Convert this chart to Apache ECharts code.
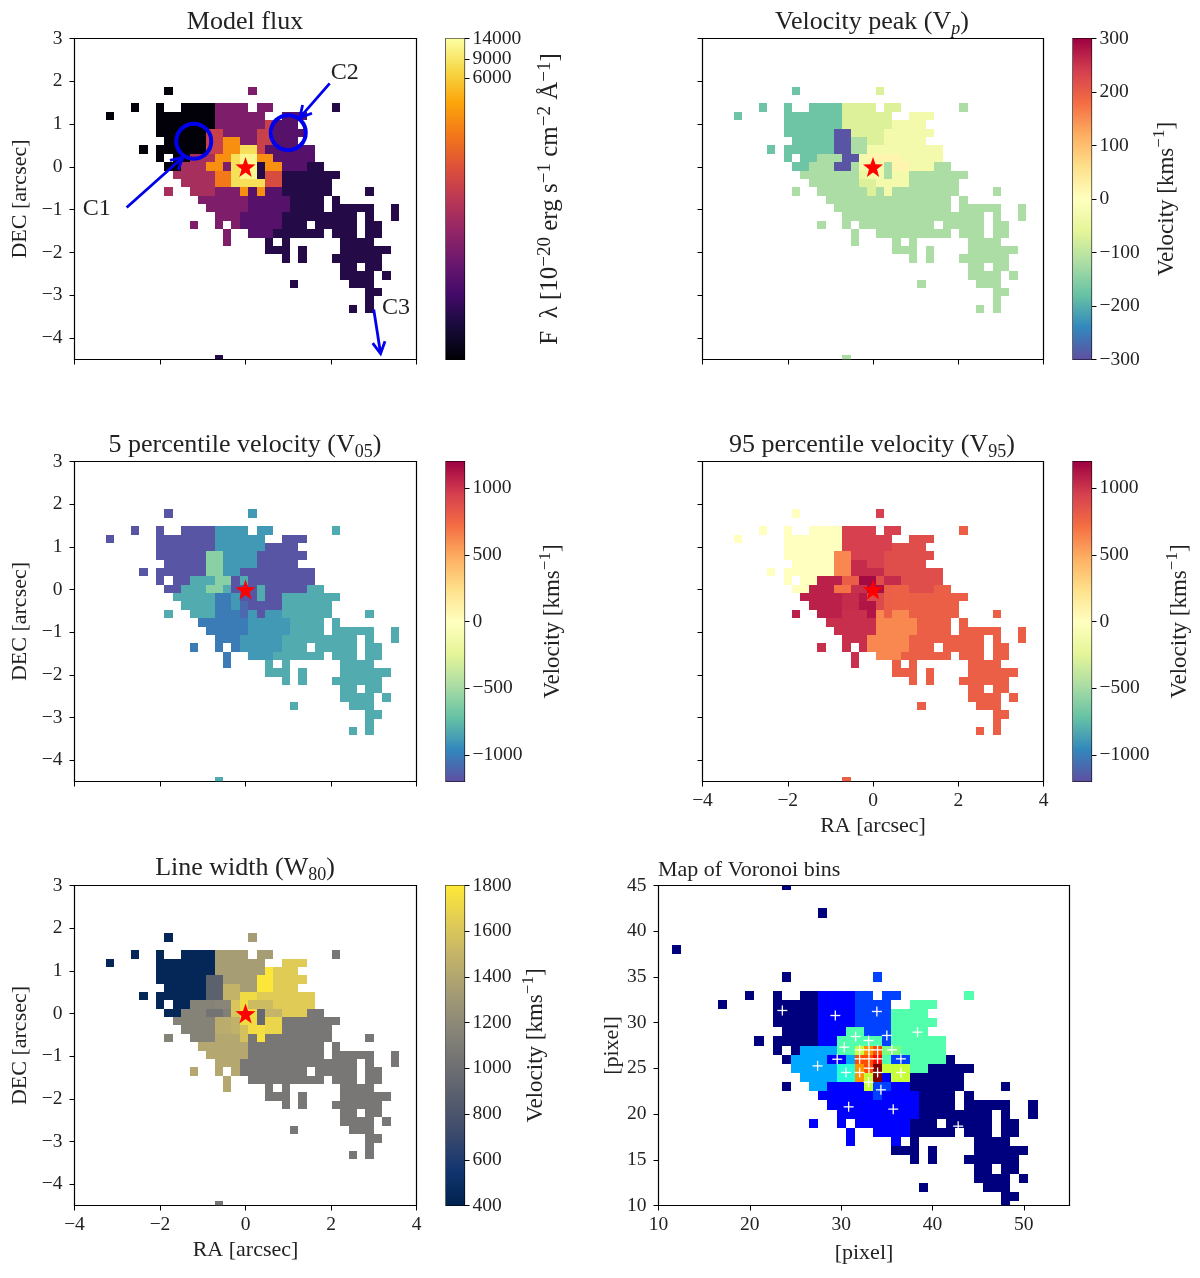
<!DOCTYPE html>
<html>
<head>
<meta charset="utf-8">
<title>Emission line maps</title>
<script src="https://cdn.jsdelivr.net/npm/echarts@6/dist/echarts.min.js"></script>
<style>
html, body { margin: 0; background: #fff; }
#main { width: 1200px; height: 1278px; }
</style>
</head>
<body>
<div id="main"></div>
<script>
// bin map of the physical panels: [y pixel, 'x or x-x + bin letter']
var binRows = [
    [35, '24A 34B'],
    [33, '20A 23A 26-29A 30-33B 35-36B 44W'],
    [32, '17A 23-29A 30-35B 38-40C'],
    [31, '23-29A 30-35B 36D 37-39C'],
    [30, '23-28A 29-30E 31-34B 35-36D 37-40C'],
    [29, '24-28A 29-30E 31-32F 33-34B 35-36D 37-39C'],
    [28, '21A 23-28A 29-30E 31-32F 33-34H 35I 36-41C'],
    [27, '23A 25-26A 27-29Q 30-31J 32K 33L 34M 35-36N 37-41C'],
    [26, '24-25A 26-28Q 29-30O 31P 32R 33-34T 35U 36-37V 38-40C 41-42W'],
    [25, '25-29Q 30-31X 32Y 33-34Z 35U 36-37a 38-44W'],
    [24, '26-29Q 30-31X 32b 33c 34d 35e 36-37a 38-43W'],
    [23, '24Q 27-29Q 30-32s 33f 34n 35g 36-37n 38-43W 48W'],
    [22, '28-33s 34-38n 39-42W 44W'],
    [21, '29-33s 34-38n 39-42W 44-48W 51W'],
    [20, '30-32s 33-37n 38-46W 48W 51W'],
    [19, '27s 30s 32s 33-37n 38-40W 42-46W 48-49W'],
    [18, '31s 34-36n 37-42W 44-46W 48-49W'],
    [17, '31s 36W 38W 45-48W'],
    [16, '36-38W 40W 45-50W'],
    [15, '38W 40W 44-49W'],
    [14, '45-46W 48-49W'],
    [13, '45-48W 50W'],
    [12, '39W 46-48W'],
    [11, '48-49W'],
    [10, '48W'],
    [9, '46W 48W'],
    [3, '30W']
];

// one value per bin letter, same order as binKeys
var binKeys = ['A','B','C','D','E','F','H','I','Q','J','K','L','M','N','O','P','R','T','U','V','W','X','Y','Z','a','b','c','d','e','s','f','n','g'];
var fluxVals = [16,164,83,600,600,2550,8100,600,326,2550,8100,12100,12100,2550,2550,164,8100,12100,37,2550,37,1800,8100,12100,800,8100,8100,8100,8100,164,2550,83,2550];
var vpVals = [-174,-70,-30,-30,-295,-120,-30,-30,-120,-295,-30,20,20,20,-295,-120,-30,-30,-120,20,-120,-120,-50,-30,-30,-70,-70,-30,-30,-120,-70,-120,-30];
var v05Vals = [-1175,-890,-1175,-1175,-600,-890,-1175,-1175,-815,-600,-1175,-815,-1175,-1175,-600,-815,-1175,-1175,-815,-1175,-815,-1010,-890,-1175,-1175,-890,-1090,-1175,-1175,-1010,-1090,-890,-1175];
var v95Vals = [0,950,880,880,620,1030,1030,880,1080,800,1170,1170,880,1030,700,1020,1020,1150,790,780,790,1030,1100,900,780,1120,1120,900,790,1020,1120,620,790];
var w80Vals = [440,1340,1640,1790,900,1490,1730,1640,1150,1170,1600,1730,1540,1540,1040,1130,1600,1740,960,1500,1070,1440,1480,1730,1700,1480,1570,1740,1740,1410,1570,1070,1760];

// voronoi map
var voronoiRows = [
    [45, '24n'],
    [42, '28n'],
    [38, '12n'],
    [35, '24n 34m'],
    [33, '20n 23n 26-27n 28-31b 32-33m 35-36m 44g'],
    [32, '17n 23-27n 28-31b 32-35m 38-40g'],
    [31, '23-27n 28-31b 32-35m 36-39g'],
    [30, '23-27n 28-31b 32-35m 36-40g'],
    [29, '24-27n 28-30b 31-32g 33-35m 36-39g'],
    [28, '21n 23-27n 28-29b 30-34g 35m 36-41g'],
    [27, '23n 25n 26-29c 30-31g 32y 33o 34r 35-36l 37-41g'],
    [26, '24n 25-28c 29-30b 31c 32-33r 34R 35g 36-37m 38-41g 42n'],
    [25, '25-29c 30-31t 32o 33r 34d 35-37y 38-39g 40-44n'],
    [24, '26-29c 30-31t 32o 33y 34d 35b 36-37y 38-43n'],
    [23, '24n 27-28c 29-32b 33y 34-35m 36-37b 38-43n 48n'],
    [22, '28-33b 34m 35-38b 39-42n 44n'],
    [21, '29-38b 39-42n 44-48n 51n'],
    [20, '30-38b 39-46n 48n 51n'],
    [19, '27b 30b 32-37b 38-40n 42-46n 48-49n'],
    [18, '31b 34-37b 38-42n 44-46n 48-49n'],
    [17, '31b 36b 38n 45-48n'],
    [16, '36-38n 40n 45-50n'],
    [15, '38n 40n 44-49n'],
    [14, '45-46n 48-49n'],
    [13, '45-48n 50n'],
    [12, '39n 46-48n'],
    [11, '48-49n'],
    [10, '48n']
];
var voronoiKeys = ['n','b','m','c','t','g','l','y','o','r','R','d'];
var voronoiVals = [0,0.125,0.19,0.29,0.415,0.455,0.5,0.57,0.73,0.8,0.87,1];
var voronoiCenters = [[32.02,27.02],[33.04,27.02],[33.99,27.02],[32.02,26.04],[33.04,26.04],[33.99,26.04],[33.04,25.02],[32.02,24.55],[33.99,24.55],[30.52,24.55],[33,23.49],[34.35,22.65],[36.54,24.55],[36.54,26.04],[35.55,27.02],[29.57,26],[27.42,25.27],[30.34,27.32],[31.58,28.48],[33,28.05],[35,28.6],[38.36,28.96],[33.91,31.22],[29.36,30.78],[23.56,31.33],[30.82,20.79],[35.7,20.54],[42.81,18.68]];

// annotations on the flux panel
var arrowLines = [[-2.78,-0.95,-1.47,0.22],[1.97,1.95,1.27,1.15],[3.0,-3.33,3.16,-4.36]];
var ringCenters = [[-1.21,0.6],[1.0,0.8]];
var noteLabels = [['C1',-3.48,-0.97],['C2',2.32,2.2],['C3',3.52,-3.28]];

var velTicks = [-1000,-500,0,500,1000];
var vpTicks = [-300,-200,-100,0,100,200,300];
var w80Ticks = [400,600,800,1000,1200,1400,1600,1800];
var fluxTicks = [6000,14000];
var fluxMidTick = [9000];
var decTicks = [-4,-3,-2,-1,0,1,2,3];
var pixelXTicks = [10,20,30,40,50];

var PIX = 0.196, X0 = 33.18, Y0 = 25.93;
var SERIF = '"Liberation Serif", serif';
var STAR = 'path://M0,-10 L2.35,-3.24 L9.51,-3.09 L3.8,1.24 L5.88,8.09 L0,4 L-5.88,8.09 L-3.8,1.24 L-9.51,-3.09 L-2.35,-3.24 Z';

var spectral = ['#9e0142','#d53e4f','#f46d43','#fdae61','#fee08b','#ffffbf','#e6f598','#abdda4','#66c2a5','#3288bd','#5e4fa2'].reverse();
var inferno = ['#000004','#160b39','#420a68','#6a176e','#932667','#bb3754','#dd513a','#f37819','#fca50a','#f6d746','#fcffa4'];
var cividis = ['#00224e','#123570','#3b496c','#575d6d','#707173','#8a8678','#a59c74','#c3b369','#e1cc55','#fee838'];
var jet = ['#00007f','#0000ff','#007fff','#00ffff','#7fff7f','#ffff00','#ff7f00','#ff0000','#7f0000'];

function log10(v) { return Math.log(v) / Math.LN10; }

// expand the row strings into cells
function eachCell(rows, cb) {
    rows.forEach(function (row) {
        row[1].split(' ').forEach(function (tok) {
            var m = tok.match(/^(\d+)(?:-(\d+))?([A-Za-z])$/);
            var a = +m[1], b = m[2] ? +m[2] : a;
            for (var x = a; x <= b; x++) cb(x, row[0], m[3]);
        });
    });
}

function binData(vals) {
    var out = [];
    eachCell(binRows, function (x, y, k) {
        out.push([(x - X0) * PIX, (y - Y0) * PIX, vals[binKeys.indexOf(k)]]);
    });
    return out;
}

function voronoiData() {
    var out = [];
    eachCell(voronoiRows, function (x, y, k) {
        out.push([x, y, voronoiVals[voronoiKeys.indexOf(k)]]);
    });
    return out;
}

function cellSeries(idx, data, half, stops, toT) {
    return {
        type: 'custom',
        xAxisIndex: idx,
        yAxisIndex: idx,
        clip: true,
        data: data,
        encode: { x: 0, y: 1 },
        renderItem: function (params, api) {
            var p0 = api.coord([api.value(0) - half, api.value(1) + half]);
            var p1 = api.coord([api.value(0) + half, api.value(1) - half]);
            var col = echarts.color.lerp(toT(api.value(2)), stops);
            // snap to whole pixels so neighbours leave no seams
            var x0 = Math.round(p0[0]), y0 = Math.round(p0[1]);
            var rect = echarts.graphic.clipRectByRect(
                { x: x0, y: y0, width: Math.round(p1[0]) - x0, height: Math.round(p1[1]) - y0 },
                { x: params.coordSys.x, y: params.coordSys.y, width: params.coordSys.width, height: params.coordSys.height }
            );
            if (!rect) return null;
            return { type: 'rect', shape: rect, style: { fill: col } };
        }
    };
}

function starSeries(idx) {
    return {
        type: 'scatter',
        xAxisIndex: idx,
        yAxisIndex: idx,
        symbol: STAR,
        symbolSize: 20,
        itemStyle: { color: '#ff0000', opacity: 1 },
        silent: true,
        z: 5,
        data: [[0, 0]]
    };
}

function minus(v) { return String(v).replace('-', '\u2212'); }
function fluxFmt(v) { return Math.round(Math.pow(10, v)); }

var panels = [
    { left: 74.5, top: 38.5, width: 342, height: 321, xLabel: false, yLabel: true },
    { left: 702.5, top: 38.5, width: 341, height: 321, xLabel: false, yLabel: false },
    { left: 74.5, top: 461.5, width: 342, height: 320, xLabel: false, yLabel: true },
    { left: 702.5, top: 461.5, width: 341, height: 320, xLabel: true, yLabel: false },
    { left: 74.5, top: 885.5, width: 342, height: 320, xLabel: true, yLabel: true }
];
var voronoiGrid = { left: 658.5, top: 885.5, width: 411, height: 320 };

var velName = '{n|Velocity [kms}{u|\u22121}{n|]}';
var bars = [
    { left: 446, top: 38.5, height: 321, min: log10(15), max: log10(14000), ticks: fluxTicks.map(log10), stops: inferno, gap: 71, size: 25, fmt: fluxFmt,
      name: '{n|F  \u03bb [10}{u|\u221220}{n| erg s}{u|\u22121}{n| cm}{u|\u22122}{n| \u00c5}{u|\u22121}{n|]}' },
    { left: 1073, top: 38.5, height: 321, min: -300, max: 300, ticks: vpTicks, stops: spectral, gap: 60, size: 23, name: velName },
    { left: 446, top: 461.5, height: 320, min: -1200, max: 1200, ticks: velTicks, stops: spectral, gap: 73, size: 23, name: velName },
    { left: 1073, top: 461.5, height: 320, min: -1200, max: 1200, ticks: velTicks, stops: spectral, gap: 73, size: 23, name: velName },
    { left: 446, top: 885.5, height: 320, min: 400, max: 1800, ticks: w80Ticks, stops: cividis, gap: 56, size: 23, name: velName }
];

var titleRich = {
    t: { fontFamily: SERIF, fontSize: 26, fontWeight: 'normal', lineHeight: 32, color: '#222' },
    s: { fontFamily: SERIF, fontSize: 18, fontWeight: 'normal', lineHeight: 32, verticalAlign: 'bottom', color: '#222' },
    i: { fontFamily: SERIF, fontSize: 18, fontWeight: 'normal', lineHeight: 32, verticalAlign: 'bottom', fontStyle: 'italic', color: '#222' }
};
var titles = [
    { cx: 245, top: 6, text: '{t|Model flux}' },
    { cx: 872, top: 6, text: '{t|Velocity peak (V}{i|p}{t|)}' },
    { cx: 245, top: 429, text: '{t|5 percentile velocity (V}{s|05}{t|)}' },
    { cx: 872, top: 429, text: '{t|95 percentile velocity (V}{s|95}{t|)}' },
    { cx: 245, top: 852, text: '{t|Line width (W}{s|80}{t|)}' }
];

var grids = [], xAxes = [], yAxes = [], series = [];
var hiddenLine = { show: false, onZero: false };
var tickStyle = { show: true, length: 5, inside: false, lineStyle: { color: '#000', width: 1 } };
var labelStyle = { fontFamily: SERIF, fontSize: 19.5, lineHeight: 14, color: '#222', interval: 0, showMinLabel: true, showMaxLabel: true, hideOverlap: false };
var nameStyle = { fontFamily: SERIF, fontSize: 22, color: '#222' };
var pixelName = { fontFamily: SERIF, fontSize: 22, color: '#222' };

panels.forEach(function (p, i) {
    grids.push({ left: p.left, top: p.top, width: p.width, height: p.height, show: true, borderColor: '#000', borderWidth: 1.2, backgroundColor: 'transparent', containLabel: false });
    xAxes.push({
        gridIndex: i, type: 'value', min: -4, max: 4, interval: 2,
        axisLine: hiddenLine, splitLine: { show: false }, axisTick: tickStyle,
        axisLabel: Object.assign({ show: p.xLabel, margin: 12, formatter: minus }, labelStyle),
        name: p.xLabel ? 'RA [arcsec]' : '', nameLocation: 'middle', nameGap: 34, nameTextStyle: nameStyle
    });
    yAxes.push({
        gridIndex: i, type: 'value', min: -4.5, max: 3,
        axisLine: hiddenLine, splitLine: { show: false },
        axisTick: Object.assign({ customValues: decTicks }, tickStyle),
        axisLabel: Object.assign({ show: p.yLabel, margin: 12, customValues: decTicks, formatter: minus }, labelStyle),
        name: p.yLabel ? 'DEC [arcsec]' : '', nameLocation: 'middle', nameGap: 43, nameTextStyle: nameStyle
    });
});

// voronoi panel axes
grids.push({ left: voronoiGrid.left, top: voronoiGrid.top, width: voronoiGrid.width, height: voronoiGrid.height, show: true, borderColor: '#000', borderWidth: 1.2, backgroundColor: 'transparent' });
xAxes.push({
    gridIndex: 5, type: 'value', min: 10, max: 55,
    axisLine: hiddenLine, splitLine: { show: false },
    axisTick: Object.assign({ customValues: pixelXTicks }, tickStyle),
    axisLabel: Object.assign({ margin: 12, customValues: pixelXTicks }, labelStyle),
    name: '[pixel]', nameLocation: 'middle', nameGap: 37, nameTextStyle: pixelName
});
yAxes.push({
    gridIndex: 5, type: 'value', min: 10, max: 45, interval: 5,
    axisLine: hiddenLine, splitLine: { show: false }, axisTick: tickStyle,
    axisLabel: Object.assign({ margin: 12 }, labelStyle),
    name: '[pixel]', nameLocation: 'middle', nameGap: 34, nameTextStyle: pixelName
});

// colour bars, their axes carry the ticks
bars.forEach(function (b, i) {
    var g = 6 + i;
    grids.push({ left: b.left, top: b.top, width: 18.5, height: b.height, show: true, borderColor: '#000', borderWidth: 1.2, backgroundColor: 'transparent' });
    xAxes.push({ gridIndex: g, type: 'value', min: 0, max: 1, show: false });
    yAxes.push({
        gridIndex: g, type: 'value', position: 'right', min: b.min, max: b.max,
        axisLine: hiddenLine, splitLine: { show: false },
        axisTick: Object.assign({ customValues: b.ticks }, tickStyle),
        axisLabel: Object.assign({ margin: 8, customValues: b.ticks, formatter: b.fmt || minus }, labelStyle),
        name: b.name, nameLocation: 'middle', nameRotate: 90, nameGap: b.gap,
        nameTextStyle: {
            rich: {
                n: { fontFamily: SERIF, fontSize: b.size, lineHeight: 30, color: '#222' },
                u: { fontFamily: SERIF, fontSize: b.size - 6, lineHeight: 30, verticalAlign: 'top', color: '#222' }
            }
        }
    });
    series.push({
        type: 'custom', xAxisIndex: g, yAxisIndex: g, silent: true, data: [[0, b.min, 1, b.max]],
        encode: { x: [0, 2], y: [1, 3] },
        renderItem: function (params, api) {
            var p0 = api.coord([0, b.max]), p1 = api.coord([1, b.min]);
            var colorStops = b.stops.map(function (c, k) { return { offset: k / (b.stops.length - 1), color: c }; });
            return {
                type: 'rect',
                shape: { x: p0[0], y: p0[1], width: p1[0] - p0[0], height: p1[1] - p0[1] },
                style: { fill: new echarts.graphic.LinearGradient(0, 1, 0, 0, colorStops) }
            };
        }
    });
});

// the flux labels sit close together and the axis drops the middle one,
// so 9000 goes on a second axis of the same bar
yAxes.push({
    gridIndex: 6, type: 'value', position: 'right', min: log10(15), max: log10(14000),
    axisLine: hiddenLine, splitLine: { show: false },
    axisTick: Object.assign({ customValues: fluxMidTick.map(log10) }, tickStyle),
    axisLabel: Object.assign({ margin: 8, customValues: fluxMidTick.map(log10), formatter: fluxFmt }, labelStyle)
});

// map panels
var lf0 = log10(15), lf1 = log10(14000);
series.push(cellSeries(0, binData(fluxVals), PIX / 2, inferno, function (v) { return (log10(v) - lf0) / (lf1 - lf0); }));
series.push(cellSeries(1, binData(vpVals), PIX / 2, spectral, function (v) { return (v + 300) / 600; }));
series.push(cellSeries(2, binData(v05Vals), PIX / 2, spectral, function (v) { return (v + 1200) / 2400; }));
series.push(cellSeries(3, binData(v95Vals), PIX / 2, spectral, function (v) { return (v + 1200) / 2400; }));
series.push(cellSeries(4, binData(w80Vals), PIX / 2, cividis, function (v) { return (v - 400) / 1400; }));
series.push(cellSeries(5, voronoiData(), 0.5, jet, function (v) { return v; }));
[0, 1, 2, 3, 4].forEach(function (i) { series.push(starSeries(i)); });

// bin centres, white plus signs
series.push({
    type: 'custom', xAxisIndex: 5, yAxisIndex: 5, silent: true, z: 5, data: voronoiCenters,
    encode: { x: 0, y: 1 },
    renderItem: function (params, api) {
        var c = api.coord([api.value(0), api.value(1)]), r = 5;
        return {
            type: 'group',
            children: [
                { type: 'line', shape: { x1: c[0] - r, y1: c[1], x2: c[0] + r, y2: c[1] }, style: { stroke: '#fff', lineWidth: 1.3 } },
                { type: 'line', shape: { x1: c[0], y1: c[1] - r, x2: c[0], y2: c[1] + r }, style: { stroke: '#fff', lineWidth: 1.3 } }
            ]
        };
    }
});

// flux panel: rings, arrows, labels
series.push({
    type: 'scatter', xAxisIndex: 0, yAxisIndex: 0, silent: true, z: 4, symbol: 'circle', symbolSize: 35,
    itemStyle: { color: 'transparent', borderColor: '#0000ee', borderWidth: 4, opacity: 1 },
    data: ringCenters
});
series.push({
    type: 'custom', xAxisIndex: 0, yAxisIndex: 0, silent: true, z: 4, clip: false, data: arrowLines,
    encode: { x: [0, 2], y: [1, 3] },
    renderItem: function (params, api) {
        var a = api.coord([api.value(0), api.value(1)]);
        var b = api.coord([api.value(2), api.value(3)]);
        var ang = Math.atan2(b[1] - a[1], b[0] - a[0]), h = 13, w = 0.5;
        var st = { stroke: '#0000ee', lineWidth: 2.8, fill: null };
        return {
            type: 'group',
            children: [
                { type: 'line', shape: { x1: a[0], y1: a[1], x2: b[0], y2: b[1] }, style: st },
                { type: 'polyline', shape: { points: [
                    [b[0] - h * Math.cos(ang - w), b[1] - h * Math.sin(ang - w)],
                    b,
                    [b[0] - h * Math.cos(ang + w), b[1] - h * Math.sin(ang + w)]
                ] }, style: st }
            ]
        };
    }
});
series.push({
    type: 'scatter', xAxisIndex: 0, yAxisIndex: 0, silent: true, z: 4, symbolSize: 0,
    itemStyle: { opacity: 1 },
    data: noteLabels.map(function (n) { return { name: n[0], value: [n[1], n[2]] }; }),
    label: { show: true, position: 'inside', formatter: '{b}', fontFamily: SERIF, fontSize: 24, color: '#222', opacity: 1 }
});

var titleList = titles.map(function (t) {
    return { text: t.text, left: t.cx, top: t.top, textAlign: 'center', padding: 0, textStyle: { fontWeight: 'normal', rich: titleRich } };
});
titleList.push({ text: 'Map of Voronoi bins', left: 658, top: 859, padding: 0, textStyle: { fontFamily: SERIF, fontSize: 22, fontWeight: 'normal', color: '#222' } });

var myChart = echarts.init(document.getElementById('main'), null, { renderer: 'canvas' });
myChart.setOption({
    animation: false,
    backgroundColor: '#fff',
    title: titleList,
    grid: grids,
    xAxis: xAxes,
    yAxis: yAxes,
    series: series
});
</script>
</body>
</html>
